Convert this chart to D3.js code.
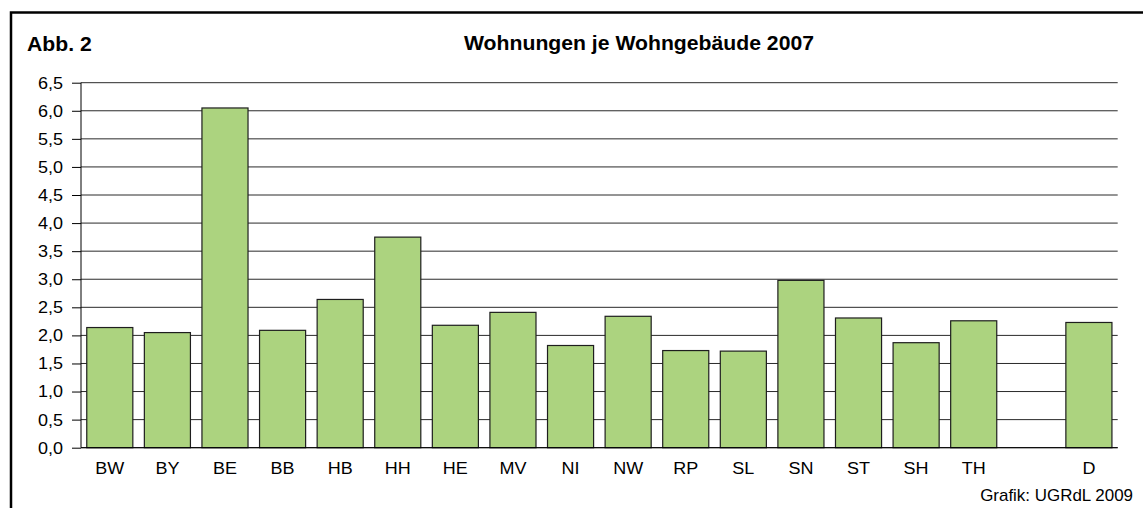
<!DOCTYPE html>
<html>
<head>
<meta charset="utf-8">
<script src="https://cdn.jsdelivr.net/npm/d3@7"></script>
<style>
    html, body { margin: 0; padding: 0; background: #fff; }
    svg { display: block; font-family: "Liberation Sans", Arial, sans-serif; }
</style>
</head>
<body>
<svg id="chart" width="1143" height="508"></svg>
<script>
// --- Data ---
const categories = ["BW", "BY", "BE", "BB", "HB", "HH", "HE", "MV", "NI", "NW", "RP", "SL", "SN", "ST", "SH", "TH", "gap", "D"];
const values = [2.14, 2.05, 6.05, 2.09, 2.64, 3.75, 2.18, 2.41, 1.82, 2.34, 1.73, 1.72, 2.98, 2.31, 1.87, 2.26, null, 2.23];
const yTicks = [0, 0.5, 1, 1.5, 2, 2.5, 3, 3.5, 4, 4.5, 5, 5.5, 6, 6.5];

const svg = d3.select("#chart");
const plot = { left: 81, right: 1117.7, top: 82.7, bottom: 447.7 };

// outer frame (runs off the right and bottom edges)
svg.append("rect")
    .attr("x", 11).attr("y", 12.5)
    .attr("width", 1300).attr("height", 700)
    .attr("fill", "none").attr("stroke", "#000").attr("stroke-width", 2.5);

// text in the original is slightly stretched horizontally
const stretch = 1.06;
function addText(xPos, yPos, str, size, opts = {}) {
    return svg.append("text")
        .attr("transform", `translate(${xPos},${yPos}) scale(${stretch},1)`)
        .attr("text-anchor", opts.anchor || "start")
        .attr("font-size", size)
        .attr("font-weight", opts.bold ? "bold" : "normal")
        .text(str);
}

addText(27, 51, "Abb. 2", 20, { bold: true });
addText(639, 50, "Wohnungen je Wohngebäude 2007", 20, { bold: true, anchor: "middle" });

const x = d3.scaleBand()
    .domain(categories)
    .range([plot.left, plot.right])
    .paddingInner(0.2)
    .paddingOuter(0.1);

const y = d3.scaleLinear()
    .domain([0, 6.5])
    .range([plot.bottom, plot.top]);

// gridlines
svg.append("g")
    .selectAll("line")
    .data(yTicks)
    .enter().append("line")
    .attr("x1", plot.left).attr("x2", plot.right)
    .attr("y1", d => y(d)).attr("y2", d => y(d))
    .attr("stroke", "#2a2a2a").attr("stroke-width", 1);

// y axis
const yAxis = svg.append("g")
    .attr("transform", `translate(${plot.left},0)`)
    .call(d3.axisLeft(y)
        .tickValues(yTicks)
        .tickSize(9)
        .tickPadding(9)
        .tickFormat(d => d3.format(".1f")(d).replace(".", ",")));
yAxis.select(".domain").attr("stroke", "#000").attr("d", `M0,${plot.top}V${plot.bottom}`);
yAxis.selectAll(".tick line").attr("stroke", "#000");
yAxis.selectAll("text")
    .attr("font-size", 17)
    .attr("font-family", "Liberation Sans, Arial, sans-serif")
    .attr("fill", "#000")
    .attr("x", -18 / stretch)
    .attr("transform", `scale(${stretch},1)`);

// bars
svg.append("g")
    .selectAll("rect")
    .data(categories.map((c, i) => ({ c, v: values[i] })).filter(d => d.v != null))
    .enter().append("rect")
    .attr("x", d => x(d.c))
    .attr("width", x.bandwidth())
    .attr("y", d => y(d.v))
    .attr("height", d => y(0) - y(d.v))
    .attr("fill", "#acd37f")
    .attr("stroke", "#1e1e1e")
    .attr("stroke-width", 1.2);

// x axis line at zero
svg.append("line")
    .attr("x1", plot.left).attr("x2", plot.right)
    .attr("y1", y(0)).attr("y2", y(0))
    .attr("stroke", "#000").attr("stroke-width", 1);

// category labels
categories.filter(c => c !== "gap").forEach(c => {
    addText(x(c) + x.bandwidth() / 2, 473.5, c, 17, { anchor: "middle" });
});

addText(1133, 500.5, "Grafik: UGRdL 2009", 16, { anchor: "end" });
</script>
</body>
</html>
